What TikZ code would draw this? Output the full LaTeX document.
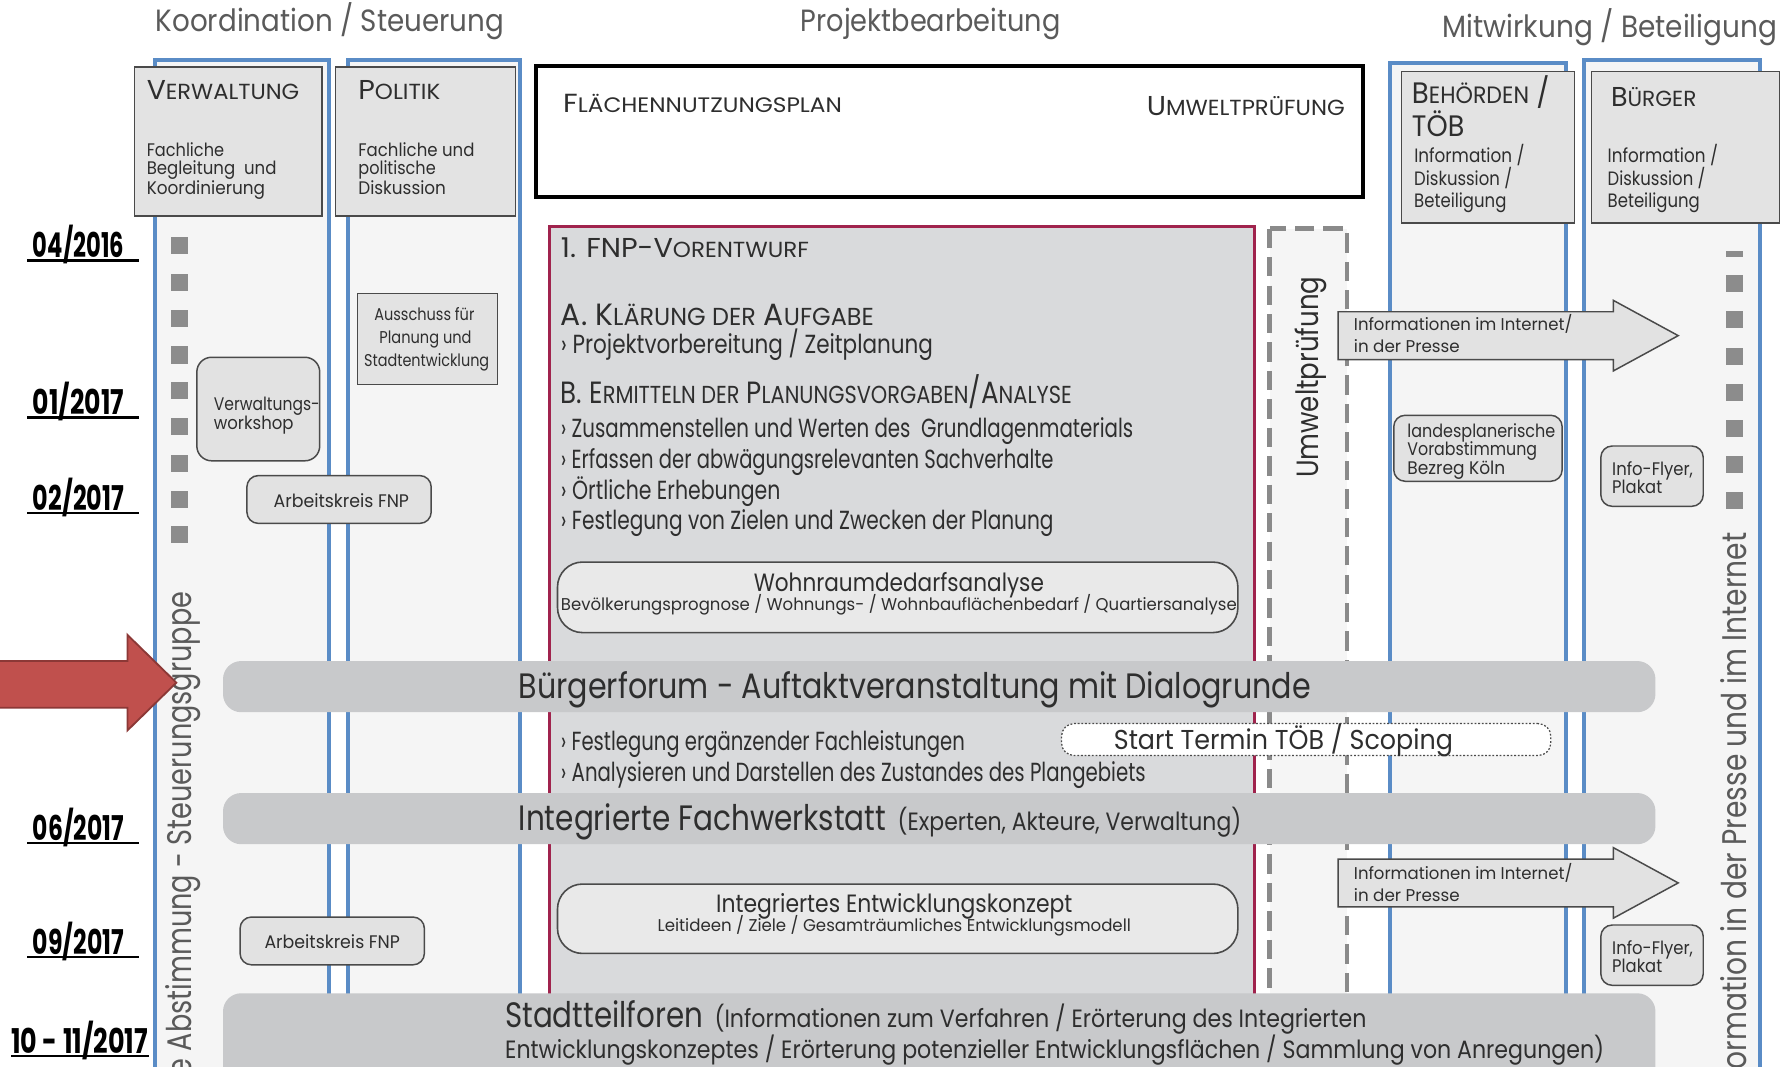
\documentclass[tikz,border=0pt]{standalone}
\usepackage{fontspec}
\usepackage{graphicx}
\setmainfont{Poppins}
\definecolor{colblue}{HTML}{5A8CC6}
\definecolor{colbg}{HTML}{F5F5F5}
\definecolor{hdrfill}{HTML}{E3E3E3}
\definecolor{boxfill}{HTML}{E2E2E2}
\definecolor{fnpfill}{HTML}{D9DADC}
\definecolor{crimson}{HTML}{A0234D}
\definecolor{bandgray}{HTML}{C8C9CB}
\definecolor{tx}{HTML}{2E2E2E}
\definecolor{ttl}{HTML}{5A5A5A}
\definecolor{sqgray}{HTML}{8C8C8C}
\definecolor{redfill}{HTML}{C0504D}
\definecolor{redline}{HTML}{8C3836}
\definecolor{dashgray}{HTML}{8A8A8A}
\definecolor{edge}{HTML}{4A4A4A}
\newcommand\mysc[1]{\scalebox{0.8}{#1}}
\newcommand\myfs[1]{\fontsize{#1}{#1}\selectfont}
\newcommand\myfit[2]{\resizebox{#1pt}{\height}{#2}}
\begin{document}
\begin{tikzpicture}[x=1pt,y=-1pt,
  lbl/.style={inner sep=0pt, outer sep=0pt, text=tx, anchor=mid west},
  lblc/.style={lbl, anchor=mid},
  datelbl/.style={lbl, text=black, font=\bfseries\myfs{30}},
  col/.style={draw=colblue, line width=3.5pt, fill=colbg},
  hdr/.style={draw=edge, line width=1.3pt, fill=hdrfill, inner sep=0pt},
  rbox/.style={draw=edge, line width=1.3pt, fill=boxfill, rounded corners=10pt, inner sep=0pt},
  bigbox/.style={draw=edge, line width=1.4pt, fill=hdrfill!80!white, rounded corners=22pt, inner sep=0pt},
  band/.style={fill=bandgray, rounded corners=16pt, inner sep=0pt},
  sq/.style={fill=sqgray},
  blockarrow/.style={draw=edge, line width=1.3pt, fill=boxfill},
]
\useasboundingbox (0,0) rectangle (1568,937);
\clip (0,0) rectangle (1568,937);
\fill[white] (0,0) rectangle (1568,937);

% ---------- titles
\node[lblc, text=ttl, font=\myfs{27}] (tK) at (290,25) {\myfit{306}{Koordination / Steuerung}};
\node[lblc, text=ttl, font=\myfs{27}] (tP) at (818,25) {\myfit{228}{Projektbearbeitung}};
\node[lblc, text=ttl, font=\myfs{27}] (tM) at (1415,30) {\myfit{294}{Mitwirkung / Beteiligung}};

% ---------- columns
\draw[col] (136,53) rectangle (289,990);
\draw[col] (306,53) rectangle (457,990);
\draw[col] (1222,55) rectangle (1376,990);
\draw[col] (1392,53) rectangle (1547,990);

% ---------- header boxes
\node[hdr, minimum width=165pt, minimum height=131pt] (hV) at (200.5,124.5) {};
\node[hdr, minimum width=158pt, minimum height=131pt] (hP) at (374,124.5) {};
\node[draw=black, line width=3pt, fill=white, inner sep=0pt, minimum width=727pt, minimum height=115pt] (hF) at (834.5,115.5) {};
\node[hdr, minimum width=152pt, minimum height=133pt] (hB) at (1308,129.5) {};
\node[hdr, minimum width=165pt, minimum height=133pt] (hU) at (1481.5,129.5) {};

\node[lbl, font=\myfs{24}] (vwT) at (129,85) {\myfit{134}{V\mysc{ERWALTUNG}}};
\node[lbl, font=\myfs{16}] (vw1) at (129,135) {\myfit{68}{Fachliche}};
\node[lbl, font=\myfs{16}] (vw2) at (129,151) {\myfit{114}{Begleitung\ \ und}};
\node[lbl, font=\myfs{16}] (vw3) at (129,168) {\myfit{104}{Koordinierung}};

\node[lbl, font=\myfs{24}] (poT) at (315,85) {\myfit{72}{P\mysc{OLITIK}}};
\node[lbl, font=\myfs{16}] (po1) at (315,135) {\myfit{102}{Fachliche und}};
\node[lbl, font=\myfs{16}] (po2) at (315,151) {\myfit{68}{politische}};
\node[lbl, font=\myfs{16}] (po3) at (315,168) {\myfit{77}{Diskussion}};

\node[lbl, font=\myfs{23}] (fnT) at (495,96) {\myfit{245}{F\mysc{LÄCHENNUTZUNGSPLAN}}};
\node[lbl, anchor=mid east, font=\myfs{24}] (fnU) at (1182,99) {\myfit{174}{U\mysc{MWELTPRÜFUNG}}};

\node[lbl, font=\myfs{26}] (beT) at (1241,88.5) {\myfit{121}{B\mysc{EHÖRDEN} /}};
\node[lbl, font=\myfs{26}] (beT2) at (1241,117.5) {\myfit{46}{TÖB}};
\node[lbl, font=\myfs{17}] (be1) at (1243,140) {\myfit{97}{Information /}};
\node[lbl, font=\myfs{17}] (be2) at (1243,160) {\myfit{86}{Diskussion /}};
\node[lbl, font=\myfs{17}] (be3) at (1243,180) {\myfit{81}{Beteiligung}};

\node[lbl, font=\myfs{24}] (buT) at (1416,91) {\myfit{75}{B\mysc{ÜRGER}}};
\node[lbl, font=\myfs{17}] (bu1) at (1413,140) {\myfit{97}{Information /}};
\node[lbl, font=\myfs{17}] (bu2) at (1413,160) {\myfit{86}{Diskussion /}};
\node[lbl, font=\myfs{17}] (bu3) at (1413,180) {\myfit{81}{Beteiligung}};

% ---------- dates
\node[datelbl] (d1) at (29,224) {\myfit{80}{04/2016}};
\node[datelbl] (d2) at (29,362) {\myfit{80}{01/2017}};
\node[datelbl] (d3) at (29,446) {\myfit{80}{02/2017}};
\node[datelbl] (d4) at (29,736) {\myfit{80}{06/2017}};
\node[datelbl] (d5) at (29,836) {\myfit{80}{09/2017}};
\node[datelbl] (d6) at (10,923) {\myfit{120}{10 - 11/2017}};
\foreach \yy in {229,367,451,741,841}{\draw[line width=2.3pt] (24,\yy) -- (122,\yy);}
\draw[line width=2.3pt] (10,928) -- (131,928);

% ---------- FNP process box and Umweltpruefung column
\draw[draw=crimson, line width=2.6pt, fill=fnpfill] (483,199) rectangle (1103,990);
\draw[draw=dashgray, line width=4pt, dash pattern=on 17pt off 8pt, fill=colbg] (1116,201) rectangle (1184,990);
\node[lbl, anchor=mid west, rotate=90, font=\myfs{27}] (uwV) at (1156,420) {\myfit{177}{Umweltprüfung}};

% ---------- squares
\foreach \yy in {216,248,280,312,343,375,407,439,470}{\fill[sq] (150,\yy-7.5) rectangle (165,\yy+7.5);}
\fill[sq] (1517,221) rectangle (1532,225.5);
\foreach \yy in {249,281,313,345,377,408,440}{\fill[sq] (1517,\yy-7.5) rectangle (1532,\yy+7.5);}

% ---------- vertical texts
\node[lbl, anchor=mid east, rotate=90, text=ttl, font=\myfs{30}] (vA) at (166,520) {\myfit{425}{e Abstimmung - Steuerungsgruppe}};
\node[lbl, anchor=mid east, rotate=90, text=ttl, font=\myfs{30}] (vI) at (1532,468) {\myfit{480}{formation in der Presse und im Internet}};

% ---------- left column boxes
\node[rbox, rounded corners=13pt, minimum width=108pt, minimum height=91pt] (vwk) at (227,359.5) {};
\node[lbl, font=\myfs{16}] (vwk1) at (188,358) {\myfit{93}{Verwaltungs-}};
\node[lbl, font=\myfs{16}] (vwk2) at (188,375) {\myfit{70}{workshop}};
\node[rbox, minimum width=162pt, minimum height=42pt] (ak1) at (298,439) {};
\node[lblc, font=\myfs{16}] (ak1T) at (300,443) {\myfit{119}{Arbeitskreis FNP}};
\node[hdr, line width=1.2pt, minimum width=123pt, minimum height=80pt] (au) at (375.5,298) {};
\node[lblc, font=\myfs{15}] (au1) at (373,279) {\myfit{88}{Ausschuss für}};
\node[lblc, font=\myfs{15}] (au2) at (374,299) {\myfit{81}{Planung und}};
\node[lblc, font=\myfs{15}] (au3) at (375,319) {\myfit{110}{Stadtentwicklung}};
\node[rbox, minimum width=162pt, minimum height=42pt] (ak2) at (292,827) {};
\node[lblc, font=\myfs{16}] (ak2T) at (292,831) {\myfit{119}{Arbeitskreis FNP}};

% ---------- FNP content
\node[lbl, font=\myfs{24}] (f1) at (493,224) {\myfit{218}{1. FNP-V\mysc{ORENTWURF}}};
\node[lbl, font=\myfs{27}] (fA) at (493,283) {\myfit{275}{A. K\mysc{LÄRUNG DER} A\mysc{UFGABE}}};
\node[lbl, font=\myfs{23}] (fA1) at (493,308) {\myfit{327}{› Projektvorbereitung / Zeitplanung}};
\node[lbl, font=\myfs{27}] (fB) at (493,352) {\myfit{449}{B. E\mysc{RMITTELN DER} P\mysc{LANUNGSVORGABEN}/A\mysc{NALYSE}}};
\node[lbl, font=\myfs{23}] (fB1) at (493,382) {\myfit{503}{› Zusammenstellen und Werten des\ \ Grundlagenmaterials}};
\node[lbl, font=\myfs{23}] (fB2) at (493,409) {\myfit{433}{› Erfassen der abwägungsrelevanten Sachverhalte}};
\node[lbl, font=\myfs{23}] (fB3) at (493,436) {\myfit{193}{› Örtliche Erhebungen}};
\node[lbl, font=\myfs{23}] (fB4) at (493,463) {\myfit{433}{› Festlegung von Zielen und Zwecken der Planung}};

\node[bigbox, minimum width=598pt, minimum height=62pt] (wb) at (789,525) {};
\node[lblc, font=\myfs{22}] (wb1) at (790,517) {\myfit{255}{Wohnraumdedarfsanalyse}};
\node[lblc, font=\myfs{15}] (wb2) at (790,534) {\myfit{594}{Bevölkerungsprognose / Wohnungs- / Wohnbauflächenbedarf / Quartiersanalyse}};

\node[lbl, font=\myfs{23}] (g1) at (493,657) {\myfit{355}{› Festlegung ergänzender Fachleistungen}};
\node[lbl, font=\myfs{23}] (g2) at (493,684) {\myfit{514}{› Analysieren und Darstellen des Zustandes des Plangebiets}};

\node[draw=edge, line width=1.1pt, dash pattern=on 1.6pt off 1.6pt, fill=white, rounded corners=11pt, inner sep=0pt, minimum width=430pt, minimum height=28pt] (sb) at (1148,650) {};
\node[lblc, font=\myfs{24}] (sbT) at (1128,656) {\myfit{298}{Start Termin TÖB / Scoping}};

\node[bigbox, minimum width=598pt, minimum height=61pt] (ib) at (789,807.5) {};
\node[lblc, font=\myfs{22}] (ib1) at (786,799) {\myfit{313}{Integriertes Entwicklungskonzept}};
\node[lblc, font=\myfs{15}] (ib2) at (786,816) {\myfit{416}{Leitideen / Ziele / Gesamträumliches Entwicklungsmodell}};

% ---------- right side
\draw[blockarrow] (1176,274) -- (1418,274) -- (1418,264) -- (1475,295) -- (1418,326) -- (1418,316) -- (1176,316) -- cycle;
\node[lbl, font=\myfs{15}] (ar1a) at (1190,287.5) {\myfit{192}{Informationen im Internet/}};
\node[lbl, font=\myfs{15}] (ar1b) at (1190,307.5) {\myfit{93}{in der Presse}};
\draw[blockarrow] (1176,755) -- (1418,755) -- (1418,745) -- (1475,776) -- (1418,807) -- (1418,797) -- (1176,797) -- cycle;
\node[lbl, font=\myfs{15}] (ar2a) at (1190,770) {\myfit{192}{Informationen im Internet/}};
\node[lbl, font=\myfs{15}] (ar2b) at (1190,790) {\myfit{93}{in der Presse}};

\node[rbox, minimum width=148pt, minimum height=58pt] (lp) at (1299,394) {};
\node[lbl, font=\myfs{16}] (lp1) at (1237,382) {\myfit{130}{landesplanerische}};
\node[lbl, font=\myfs{16}] (lp2) at (1237,398) {\myfit{114}{Vorabstimmung}};
\node[lbl, font=\myfs{16}] (lp3) at (1237,414) {\myfit{86}{Bezreg Köln}};

\node[rbox, minimum width=90pt, minimum height=53pt] (if1) at (1452,418.5) {};
\node[lbl, font=\myfs{16}] (if1a) at (1417,415) {\myfit{71}{Info-Flyer,}};
\node[lbl, font=\myfs{16}] (if1b) at (1417,431) {\myfit{44}{Plakat}};
\node[rbox, minimum width=90pt, minimum height=53pt] (if2) at (1452,839.5) {};
\node[lbl, font=\myfs{16}] (if2a) at (1417,836) {\myfit{71}{Info-Flyer,}};
\node[lbl, font=\myfs{16}] (if2b) at (1417,852) {\myfit{44}{Plakat}};

% ---------- bands
\node[band, minimum width=1259pt, minimum height=45pt] (bf) at (825.5,603.5) {};
\node[lbl, font=\myfs{31}] (bfT) at (456,611) {\myfit{696}{Bürgerforum - Auftaktveranstaltung mit Dialogrunde}};
\node[band, minimum width=1259pt, minimum height=45pt] (fw) at (825.5,719.5) {};
\node[lbl, anchor=base west, font=\myfs{31}] (fwT) at (456,730) {\myfit{323}{Integrierte Fachwerkstatt}};
\node[lbl, anchor=base west, font=\myfs{22}] (fwS) at (789,730) {\myfit{302}{(Experten, Akteure, Verwaltung)}};
\node[band, minimum width=1259pt, minimum height=117pt] (st) at (825.5,931.5) {};
\node[lbl, anchor=base west, font=\myfs{31}] (stT) at (444,903) {\myfit{174}{Stadtteilforen}};
\node[lbl, anchor=base west, font=\myfs{22}] (stS1) at (628,903) {\myfit{573}{(Informationen zum Verfahren / Erörterung des Integrierten}};
\node[lbl, anchor=base west, font=\myfs{22}] (stS2) at (444,930) {\myfit{966}{Entwicklungskonzeptes / Erörterung potenzieller Entwicklungsflächen / Sammlung von Anregungen)}};

% ---------- red arrow
\draw[draw=redline, line width=1.6pt, fill=redfill] (-5,581) -- (112,581) -- (112,558) -- (155,600) -- (112,642) -- (112,622) -- (-5,622) -- cycle;
\end{tikzpicture}
\end{document}
